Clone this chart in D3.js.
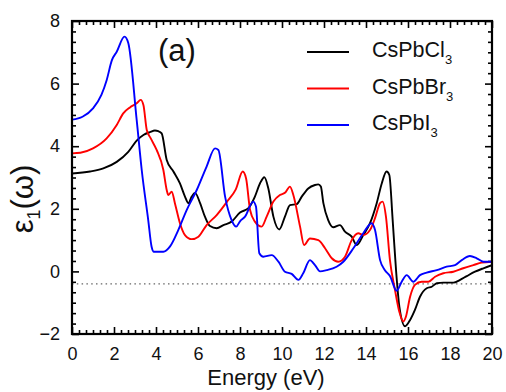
<!DOCTYPE html>
<html><head><meta charset="utf-8">
<script src="https://cdn.jsdelivr.net/npm/d3@7"></script>
<style>
body{margin:0;background:#fff;}
text{font-family:"Liberation Sans",Arial,Helvetica,sans-serif;}
</style></head>
<body><svg id="c" width="506" height="392"></svg>
<script>
// ---- data ----
const seriesNames = ["CsPbCl", "CsPbBr", "CsPbI"];
const seriesColors = ["#000000", "#ff0000", "#0000ff"];

const clE = [0,0.86,1.49,2.13,2.68,3.08,3.4,3.71,3.95,4.11,4.27,4.51,4.83,5.14,5.38,5.54,5.7,5.86,6.1,6.33,6.57,6.89,7.21,7.6,8.0,8.4,8.71,8.95,9.16,9.35,9.59,9.87,10.14,10.38,10.7,10.94,11.25,11.57,11.73,11.85,11.97,12.2,12.44,12.76,13.0,13.32,13.56,13.87,14.19,14.51,14.75,14.98,15.11,15.27,15.43,15.59,15.86,16.1,16.33,16.57,16.89,17.13,17.37,17.68,18.16,18.48,18.8,19.19,19.59,20];
const clV = [3.13,3.19,3.29,3.50,3.82,4.18,4.36,4.45,4.50,4.48,4.41,3.56,3.19,2.81,2.39,2.18,2.39,2.51,2.18,1.75,1.45,1.38,1.48,1.59,1.88,2.02,2.39,2.81,3.01,2.65,1.75,1.34,1.75,2.12,2.15,2.39,2.65,2.76,2.78,2.71,2.18,1.64,1.41,1.48,1.27,1.11,0.84,1.16,1.54,2.18,2.81,3.19,3.08,1.64,0.04,-1.13,-1.75,-1.55,-1.23,-0.81,-0.54,-0.49,-0.38,-0.36,-0.36,-0.27,-0.15,-0.01,0.10,0.20];

const brE = [0,0.4,1.0,1.65,2.13,2.44,2.76,3.08,3.27,3.4,3.56,3.75,4.03,4.35,4.51,4.59,4.75,4.9,5.14,5.38,5.7,6.02,6.41,6.89,7.44,7.8,8.13,8.29,8.48,8.71,9.03,9.27,9.59,9.9,10.14,10.38,10.54,10.86,11.05,11.33,11.73,12.05,12.37,12.68,13.0,13.32,13.63,13.87,14.19,14.43,14.67,14.79,14.95,15.14,15.38,15.59,15.78,15.9,16.1,16.33,16.65,16.97,17.29,17.68,18.16,18.63,19.11,19.51,20];
const brV = [3.77,3.79,3.93,4.25,4.68,5.05,5.24,5.37,5.48,5.32,4.52,4.25,3.88,3.24,2.60,2.44,2.55,2.18,1.54,1.16,1.03,1.11,1.48,1.80,2.28,2.62,3.19,2.97,1.96,1.59,1.43,1.75,2.23,2.44,2.51,2.71,2.44,1.43,0.84,1.05,1.0,0.74,0.42,0.31,0.47,1.0,1.22,1.16,1.32,1.70,2.18,2.23,1.75,0.36,-0.59,-1.3,-1.6,-1.45,-0.81,-0.43,-0.33,-0.33,-0.17,-0.06,-0.01,0.10,0.20,0.28,0.31];

const iE = [0,0.5,1.0,1.4,1.65,1.9,2.13,2.5,2.68,3.08,3.32,3.63,3.79,3.9,4.35,4.67,5.06,5.46,5.94,6.41,6.81,6.97,7.29,7.6,7.82,8.0,8.24,8.63,8.76,8.92,9.11,9.51,9.83,10.14,10.46,10.78,11.01,11.33,11.57,11.81,12.13,12.6,12.92,13.4,13.87,14.27,14.43,14.67,14.9,15.14,15.46,15.7,15.94,16.25,16.57,16.89,17.37,17.84,18.24,18.56,18.95,19.27,19.59,20];
const iV = [4.85,4.94,5.21,5.64,6.11,6.75,7.02,7.5,7.3,4.84,3.24,1.64,0.79,0.63,0.63,0.80,1.32,1.96,2.60,3.35,3.93,3.88,2.39,1.64,1.43,1.6,1.75,2.23,2.07,0.58,0.47,0.52,0.31,-0.01,-0.08,-0.27,-0.06,0.36,0.2,0.0,0.04,0.15,0.31,0.74,1.22,1.54,1.32,0.36,0.04,-0.15,-0.62,-0.33,-0.12,-0.33,-0.12,-0.04,0.04,0.15,0.20,0.36,0.49,0.42,0.31,0.31];

const xMajor = [0,2,4,6,8,10,12,14,16,18,20];
const yMajor = [-2,0,2,4,6,8];
const refLine = -0.4;
const panelLabel = "(a)";
const xTitle = "Energy (eV)";

// ---- layout ----
const svg = d3.select("#c");
const L = 72, R = 492, T = 21, B = 334;
const x = d3.scaleLinear().domain([0,20]).range([L,R]);
const y = d3.scaleLinear().domain([-2,8]).range([B,T]);

const xMinor = d3.range(0,20.001,1/3).filter(v=>Math.abs(v/2-Math.round(v/2))>1e-6);
const yMinor = d3.range(-2,8.001,1/3).filter(v=>Math.abs(v/2-Math.round(v/2))>1e-6);

function axisG(gen, tf){
  const g = svg.append("g").attr("transform", tf).call(gen);
  g.select(".domain").remove();
  g.selectAll(".tick line").attr("stroke","#000").attr("stroke-width",1.6);
  g.selectAll("text").attr("font-size",18).attr("fill","#111");
  return g;
}
// bottom
axisG(d3.axisBottom(x).tickValues(xMajor).tickSizeInner(-7).tickSizeOuter(0).tickPadding(13).tickFormat(d3.format("d")), `translate(0,${B})`);
axisG(d3.axisBottom(x).tickValues(xMinor).tickSizeInner(-4).tickSizeOuter(0).tickFormat(""), `translate(0,${B})`);
// top
axisG(d3.axisTop(x).tickValues(xMajor).tickSizeInner(-7).tickSizeOuter(0).tickFormat(""), `translate(0,${T})`);
axisG(d3.axisTop(x).tickValues(xMinor).tickSizeInner(-4).tickSizeOuter(0).tickFormat(""), `translate(0,${T})`);
// left
axisG(d3.axisLeft(y).tickValues(yMajor).tickSizeInner(-7).tickSizeOuter(0).tickPadding(12).tickFormat(d3.format("d")), `translate(${L},0)`);
axisG(d3.axisLeft(y).tickValues(yMinor).tickSizeInner(-4).tickSizeOuter(0).tickFormat(""), `translate(${L},0)`);
// right
axisG(d3.axisRight(y).tickValues(yMajor).tickSizeInner(-7).tickSizeOuter(0).tickFormat(""), `translate(${R},0)`);
axisG(d3.axisRight(y).tickValues(yMinor).tickSizeInner(-4).tickSizeOuter(0).tickFormat(""), `translate(${R},0)`);

// reference dotted line
svg.append("line").attr("x1",x(0)).attr("x2",x(20)).attr("y1",y(refLine)).attr("y2",y(refLine))
  .attr("stroke","#666").attr("stroke-width",1.3).attr("stroke-dasharray","1.5,3.3");

// curves
const data = [[clE,clV],[brE,brV],[iE,iV]];
const line = d3.line().x(d=>x(d[0])).y(d=>y(d[1])).curve(d3.curveMonotoneX);
svg.append("clipPath").attr("id","pc").append("rect").attr("x",L).attr("y",T).attr("width",R-L).attr("height",B-T);
data.forEach((s,i)=>{
  const pts = s[0].map((e,k)=>[e,s[1][k]]);
  svg.append("path").datum(pts).attr("d",line).attr("fill","none")
    .attr("stroke",seriesColors[i]).attr("stroke-width",1.9).attr("stroke-linejoin","round")
    .attr("clip-path","url(#pc)");
});

// frame
svg.append("rect").attr("x",L).attr("y",T).attr("width",R-L).attr("height",B-T)
  .attr("fill","none").attr("stroke","#000").attr("stroke-width",2.2);

// legend
const legY = [52, 88.5, 125];
seriesNames.forEach((n,i)=>{
  svg.append("line").attr("x1",307).attr("x2",349).attr("y1",legY[i]).attr("y2",legY[i])
    .attr("stroke",seriesColors[i]).attr("stroke-width",1.9);
  const t = svg.append("text").attr("x",372).attr("y",legY[i]+5).attr("font-size",21.5).attr("fill","#111");
  t.append("tspan").text(n);
  t.append("tspan").attr("font-size",13).attr("dy",7).text("3");
});

// panel label
svg.append("text").attr("x",158).attr("y",61).attr("font-size",31).attr("fill","#111").text(panelLabel);

// x title
svg.append("text").attr("x",266).attr("y",385).attr("text-anchor","middle").attr("font-size",22).attr("fill","#111").text(xTitle);

// y title
const yt = svg.append("text").attr("transform","translate(33,199) rotate(-90)").attr("text-anchor","middle").attr("font-size",31).attr("fill","#111");
yt.append("tspan").text("ε");
yt.append("tspan").attr("font-size",18).attr("dy",7).text("1");
yt.append("tspan").attr("dy",-7).text("(ω)");
</script></body></html>
